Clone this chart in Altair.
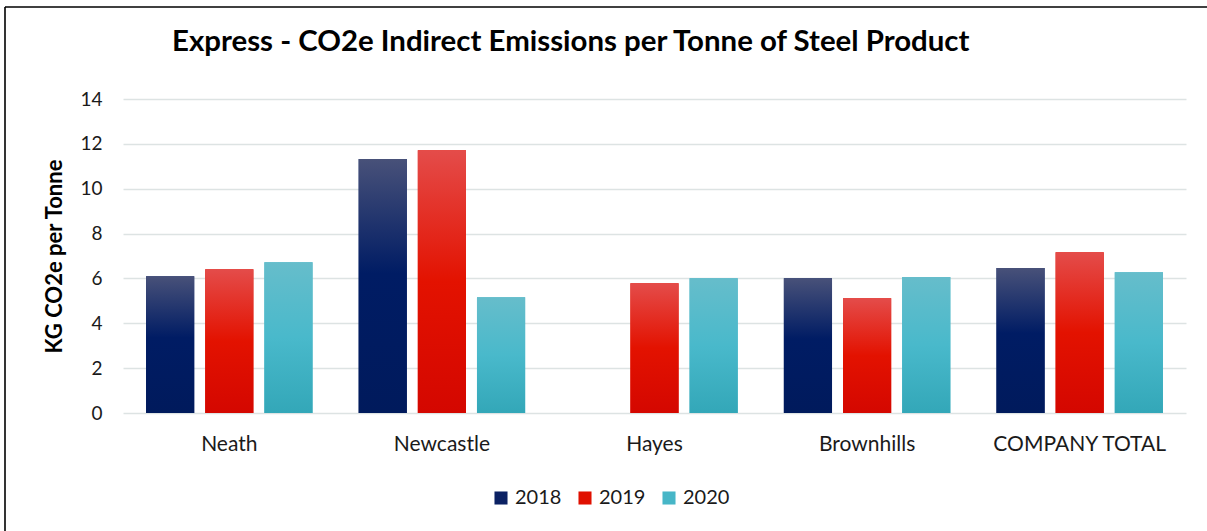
import altair as alt
import pandas as pd

# Sites along the x axis and reporting years
sites = ["Neath", "Newcastle", "Hayes", "Brownhills", "COMPANY TOTAL"]
years = ["2018", "2019", "2020"]

# KG CO2e per tonne of steel product (Hayes has no 2018 figure)
kg_2018 = [6.10, 11.32, None, 6.01, 6.46]
kg_2019 = [6.41, 11.72, 5.79, 5.12, 7.17]
kg_2020 = [6.72, 5.16, 6.01, 6.06, 6.28]

y_ticks = [0, 2, 4, 6, 8, 10, 12, 14]

chart_title = "Express - CO2e Indirect Emissions per Tonne of Steel Product"

# Flat colours used by the legend, and the vertical shading on each bar
legend_colors = ["#0b2163", "#e01000", "#47b6c7"]
bar_shading = {
    "2018": [(0.0, "#485179"), (0.45, "#001c64"), (1.0, "#001a5c")],
    "2019": [(0.0, "#e44c4a"), (0.5, "#e31200"), (1.0, "#d40700")],
    "2020": [(0.0, "#66bdcb"), (0.5, "#49b9cb"), (1.0, "#33a7b8")],
}

FONT = "Lato"
GRID = "#dde3e3"

rows = []
for year, values in zip(years, [kg_2018, kg_2019, kg_2020]):
    for site, v in zip(sites, values):
        if v is not None:
            rows.append({"site": site, "year": year, "kg": v})
df = pd.DataFrame(rows)

x_enc = alt.X(
    "site:N",
    sort=sites,
    scale=alt.Scale(paddingInner=0.217, paddingOuter=0.1085),
    axis=alt.Axis(
        title=None, labelAngle=0, labelFontSize=21, labelFont=FONT,
        labelColor="#1a1a1a", labelPadding=20, ticks=False, domain=False, grid=False,
    ),
)
xo_enc = alt.XOffset(
    "year:N", scale=alt.Scale(domain=years, paddingInner=0.186, paddingOuter=0)
)
y_enc = alt.Y(
    "kg:Q",
    scale=alt.Scale(domain=[0, 14], nice=False),
    axis=alt.Axis(
        values=y_ticks, title="KG CO2e per Tonne", titleFont=FONT, titleFontSize=22,
        titleFontWeight="bold", titleColor="black", titlePadding=13,
        labelFont=FONT, labelFontSize=19, labelColor="#1a1a1a", labelPadding=21,
        ticks=False, domain=False, grid=True, gridColor=GRID, gridWidth=1.6,
    ),
)

base = alt.Chart(df).mark_bar().encode(
    x=x_enc,
    xOffset=xo_enc,
    y=y_enc,
    color=alt.Color(
        "year:N",
        scale=alt.Scale(domain=years, range=legend_colors),
        legend=alt.Legend(
            title=None, orient="none", direction="horizontal",
            legendX=368, legendY=389, symbolType="square", symbolSize=170,
            symbolStrokeWidth=0, labelFont=FONT, labelFontSize=20,
            labelColor="#1a1a1a", labelOffset=4, columnPadding=13,
        ),
    ),
)

shaded = []
for year in years:
    stops = [alt.GradientStop(offset=o, color=c) for o, c in bar_shading[year]]
    shaded.append(
        alt.Chart(df)
        .transform_filter(alt.datum.year == year)
        .mark_bar(fill=alt.LinearGradient(gradient="linear", stops=stops, x1=0, x2=0, y1=0, y2=1))
        .encode(x=x_enc, xOffset=xo_enc, y=y_enc)
    )

# Frame lines along the top and left edges of the figure, and the heading
single = pd.DataFrame({"k": [0]})
frame_top = alt.Chart(single).mark_rule(color="black", strokeWidth=1.6).encode(
    x=alt.value(-118), x2=alt.value(1090), y=alt.value(-92)
)
frame_left = alt.Chart(single).mark_rule(color="black", strokeWidth=1.6).encode(
    x=alt.value(-118), y=alt.value(-92), y2=alt.value(440)
)
heading = alt.Chart(single).mark_text(
    text=chart_title, align="left", baseline="alphabetic",
    font=FONT, fontSize=29.4, fontWeight="bold", color="black",
).encode(x=alt.value(49), y=alt.value(-48))

chart = (
    alt.layer(base, *shaded, frame_top, frame_left, heading)
    .properties(
        width=1063,
        height=314,
        view=alt.ViewBackground(stroke="transparent", strokeWidth=0),
        autosize=alt.AutoSizeParams(type="none"),
        padding={"left": 123, "top": 99, "right": 21, "bottom": 118},
    )
    .configure_view(stroke="transparent", strokeWidth=0)
    .configure(background="white", style={"cell": {"stroke": "transparent", "strokeWidth": 0}})
)

chart.save("out.html", embed_options={"renderer": "svg", "actions": False})
